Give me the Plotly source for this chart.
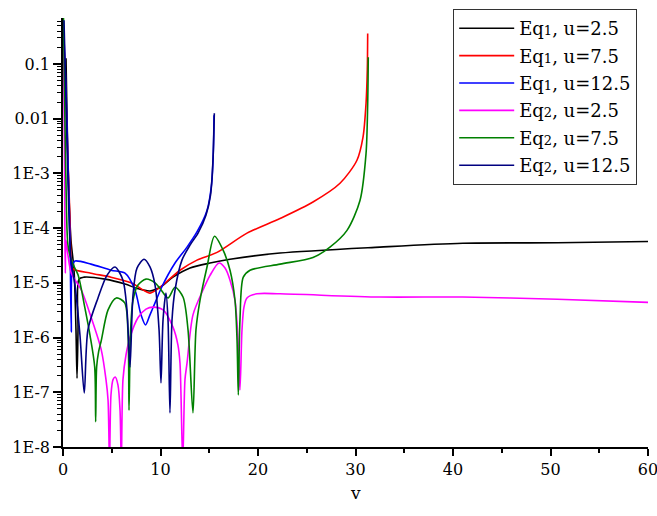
import plotly.graph_objects as go

# ---- data ----
eq1_u25_x = [0.31, 0.56, 0.82, 1.13, 1.33, 1.44, 1.54, 1.64, 2.15, 4.31, 6.36, 7.69, 8.92, 9.95, 11.28, 13.03, 15.08, 17.13, 22.26, 32.5, 41.0, 50.7, 60.0]
eq1_u25_y = [0.127, 7.6e-4, 6e-5, 1.7e-5, 1.4e-6, 1.8e-7, 1.4e-6, 1.17e-5, 1.27e-5, 1.17e-5, 9.5e-6, 7.8e-6, 7.1e-6, 8.3e-6, 1.27e-5, 1.86e-5, 2.3e-5, 2.7e-5, 3.5e-5, 4.5e-5, 5.3e-5, 5.4e-5, 5.7e-5]

eq1_u75_x = [0.1, 0.31, 0.51, 0.72, 0.85, 1.03, 2.87, 4.92, 6.97, 8.41, 8.92, 9.95, 12.0, 13.74, 15.8, 18.87, 22.26, 25.64, 28.41, 30.15, 30.77, 31.08, 31.21, 31.25]
eq1_u75_y = [0.22, 0.022, 1.7e-3, 1.4e-4, 2.4e-5, 1.8e-5, 1.5e-5, 1.27e-5, 1.0e-5, 7.1e-6, 6.5e-6, 8.3e-6, 1.7e-5, 2.6e-5, 3.6e-5, 8.1e-5, 1.5e-4, 3.0e-4, 6.6e-4, 1.74e-3, 4.6e-3, 0.019, 0.078, 0.36]

eq1_u125_x = [0.05, 0.31, 0.51, 0.72, 0.85, 0.97, 1.23, 2.87, 4.92, 6.36, 7.38, 8.0, 8.46, 8.92, 9.44, 10.12, 11.49, 12.72, 13.74, 14.77, 15.25, 15.42, 15.49]
eq1_u125_y = [0.51, 0.033, 1.7e-3, 6e-5, 1.26e-6, 2.1e-5, 2.5e-5, 2.2e-5, 1.7e-5, 1.5e-5, 7.4e-6, 2.6e-6, 1.7e-6, 2.6e-6, 4.3e-6, 8.3e-6, 2.3e-5, 4.5e-5, 8.5e-5, 2.1e-4, 6.6e-4, 2.6e-3, 0.0115]

eq2_u25_x = [0.05, 0.15, 0.2, 0.24, 0.3, 0.51, 0.85, 1.88, 2.9, 3.93, 4.41, 4.62, 4.77, 4.92, 5.13, 5.36, 5.64, 5.85, 5.98, 6.15, 6.46, 6.87, 7.69, 8.51, 9.23, 10.26, 11.28, 11.79, 12.0, 12.28, 12.51, 12.72, 13.33, 14.36, 15.08, 16.0, 16.62, 17.13, 17.64, 17.95, 18.15, 18.36, 18.56, 18.87, 19.9, 22.26, 32.5, 41.0, 50.7, 60.0]
eq2_u25_y = [0.22, 2.6e-3, 6e-5, 1.5e-5, 6e-5, 3.2e-5, 1.5e-5, 7.4e-6, 2.3e-6, 5.9e-7, 1.7e-7, 7.2e-8, 5e-9, 8.9e-8, 1.7e-7, 1.9e-7, 1.35e-7, 4.7e-8, 5e-9, 1.7e-7, 4.8e-7, 1.0e-6, 2.3e-6, 3.3e-6, 3.6e-6, 3.2e-6, 1.55e-6, 7.3e-7, 3.4e-7, 5e-9, 1.7e-7, 3.4e-7, 2.6e-6, 7.4e-6, 1.37e-5, 2.3e-5, 1.86e-5, 1.12e-5, 4.8e-6, 8.9e-7, 1.1e-7, 1.4e-6, 3.6e-6, 5.3e-6, 6.3e-6, 6.3e-6, 5.5e-6, 5.5e-6, 5.0e-6, 4.4e-6]

eq2_u75_x = [0.05, 0.2, 0.36, 0.51, 0.92, 1.54, 2.23, 2.77, 3.25, 3.35, 3.45, 3.65, 3.93, 4.62, 5.47, 6.33, 6.67, 6.77, 6.92, 7.18, 7.69, 8.51, 9.44, 9.95, 10.77, 11.49, 12.31, 12.82, 13.33, 13.64, 14.05, 14.77, 15.54, 16.41, 17.13, 17.64, 17.85, 17.98, 18.15, 18.49, 19.18, 22.26, 25.64, 27.38, 29.13, 30.46, 31.08, 31.25, 31.31]
eq2_u75_y = [0.69, 9.3e-3, 2.1e-4, 4.9e-5, 2.4e-5, 1.4e-5, 3.6e-6, 1.1e-6, 2.9e-7, 2.9e-8, 2.9e-7, 5.5e-7, 8.9e-7, 3.2e-6, 5.3e-6, 4.3e-6, 1.2e-6, 4.7e-8, 1.2e-6, 4.8e-6, 9.1e-6, 1.17e-5, 1.0e-5, 7.9e-6, 5.3e-6, 8.3e-6, 5.5e-6, 1.4e-6, 4.2e-8, 1.4e-6, 4.8e-6, 1.95e-5, 7.1e-5, 4.0e-5, 1.7e-5, 4.8e-6, 8.9e-7, 8.9e-8, 2.1e-6, 1.27e-5, 1.7e-5, 2.2e-5, 2.9e-5, 4.5e-5, 9.1e-5, 3.2e-4, 2.3e-3, 0.019, 0.133]

eq2_u125_x = [0.1, 0.31, 0.51, 0.82, 1.23, 1.74, 2.18, 2.56, 3.59, 4.51, 5.33, 6.15, 6.56, 6.87, 7.18, 7.59, 8.31, 8.92, 9.44, 9.85, 10.05, 10.26, 10.56, 10.77, 10.97, 11.18, 11.49, 12.2, 13.03, 13.85, 14.67, 15.13, 15.38, 15.52]
eq2_u125_y = [0.63, 0.022, 7.6e-4, 2.6e-5, 9.1e-6, 1.1e-6, 9.7e-8, 1.4e-6, 5.3e-6, 1.37e-5, 1.95e-5, 1.12e-5, 3.2e-6, 2.9e-7, 6e-6, 1.86e-5, 2.7e-5, 1.95e-5, 9.1e-6, 1.4e-6, 1.48e-7, 2.1e-6, 6.5e-6, 2.1e-6, 4.2e-8, 2.1e-6, 7.4e-6, 2.6e-5, 4.9e-5, 8.1e-5, 1.74e-4, 4e-4, 1.74e-3, 0.0126]

sub = "<span style='font-size:13px'>{}</span>"
series_names = ["Eq" + sub.format(1) + ", u=2.5",
                "Eq" + sub.format(1) + ", u=7.5",
                "Eq" + sub.format(1) + ", u=12.5",
                "Eq" + sub.format(2) + ", u=2.5",
                "Eq" + sub.format(2) + ", u=7.5",
                "Eq" + sub.format(2) + ", u=12.5"]
series_colors = ["#000000", "#ff0000", "#0000ff", "#ff00ff", "#008000", "#000080"]

y_tick_vals = [1e-8, 1e-7, 1e-6, 1e-5, 1e-4, 1e-3, 0.01, 0.1]
y_tick_text = ["1E-8", "1E-7", "1E-6", "1E-5", "1E-4", "1E-3", "0.01", "0.1"]
x_tick_vals = [0, 10, 20, 30, 40, 50, 60]
x_title = "v"

xs = [eq1_u25_x, eq1_u75_x, eq1_u125_x, eq2_u25_x, eq2_u75_x, eq2_u125_x]
ys = [eq1_u25_y, eq1_u75_y, eq1_u125_y, eq2_u25_y, eq2_u75_y, eq2_u125_y]

fig = go.Figure()
for i, (x, y, name, col) in enumerate(zip(xs, ys, series_names, series_colors)):
    fig.add_trace(go.Scatter(x=x, y=y, mode="lines", name=name, legendgroup="g%d" % i,
                             line=dict(color=col, width=1.6, shape="spline", smoothing=0.8)))

minor_y = [k * 10.0 ** e for e in range(-8, 0) for k in range(2, 10)]

ff = "DejaVu Serif"
fig.update_layout(
    width=657, height=516,
    margin=dict(l=63, r=9, t=18, b=69),
    paper_bgcolor="white", plot_bgcolor="white",
    font=dict(family=ff, size=16, color="black"),
    showlegend=True,
    legend=dict(x=0.667, y=1.021, xanchor="left", yanchor="top",
                bgcolor="white", bordercolor="#333333", borderwidth=1,
                font=dict(family=ff, size=18, color="black"),
                tracegroupgap=1, itemwidth=55),
    xaxis=dict(range=[0, 60], tickmode="array", tickvals=x_tick_vals,
               automargin=False,
               showline=True, linecolor="black", linewidth=1.5,
               ticks="outside", ticklen=7, tickwidth=1.5, tickcolor="black",
               showgrid=False, zeroline=False, mirror=False,
               ticklabeloverflow="allow",
               minor=dict(tickmode="array", tickvals=[5, 15, 25, 35, 45, 55],
                          ticks="outside", ticklen=4, tickwidth=1.5, tickcolor="black", showgrid=False),
               tickfont=dict(family=ff, size=16)),
    yaxis=dict(type="log", range=[-8, -0.16], tickmode="array",
               tickvals=y_tick_vals, ticktext=y_tick_text,
               automargin=False,
               showline=True, linecolor="black", linewidth=1.5,
               ticks="outside", ticklen=8, tickwidth=1.5, tickcolor="black",
               showgrid=False, zeroline=False, mirror=False,
               minor=dict(tickmode="array", tickvals=minor_y,
                          ticks="outside", ticklen=4, tickwidth=1, tickcolor="black", showgrid=False),
               tickfont=dict(family=ff, size=16)),
    annotations=[dict(text=x_title, xref="paper", yref="paper", x=0.5, y=-0.108,
                      xanchor="center", yanchor="middle", showarrow=False,
                      font=dict(family=ff, size=17, color="black"))],
)

fig.write_html("out.html", config={"displayModeBar": False},
               post_script="document.body.style.margin='0px';")
